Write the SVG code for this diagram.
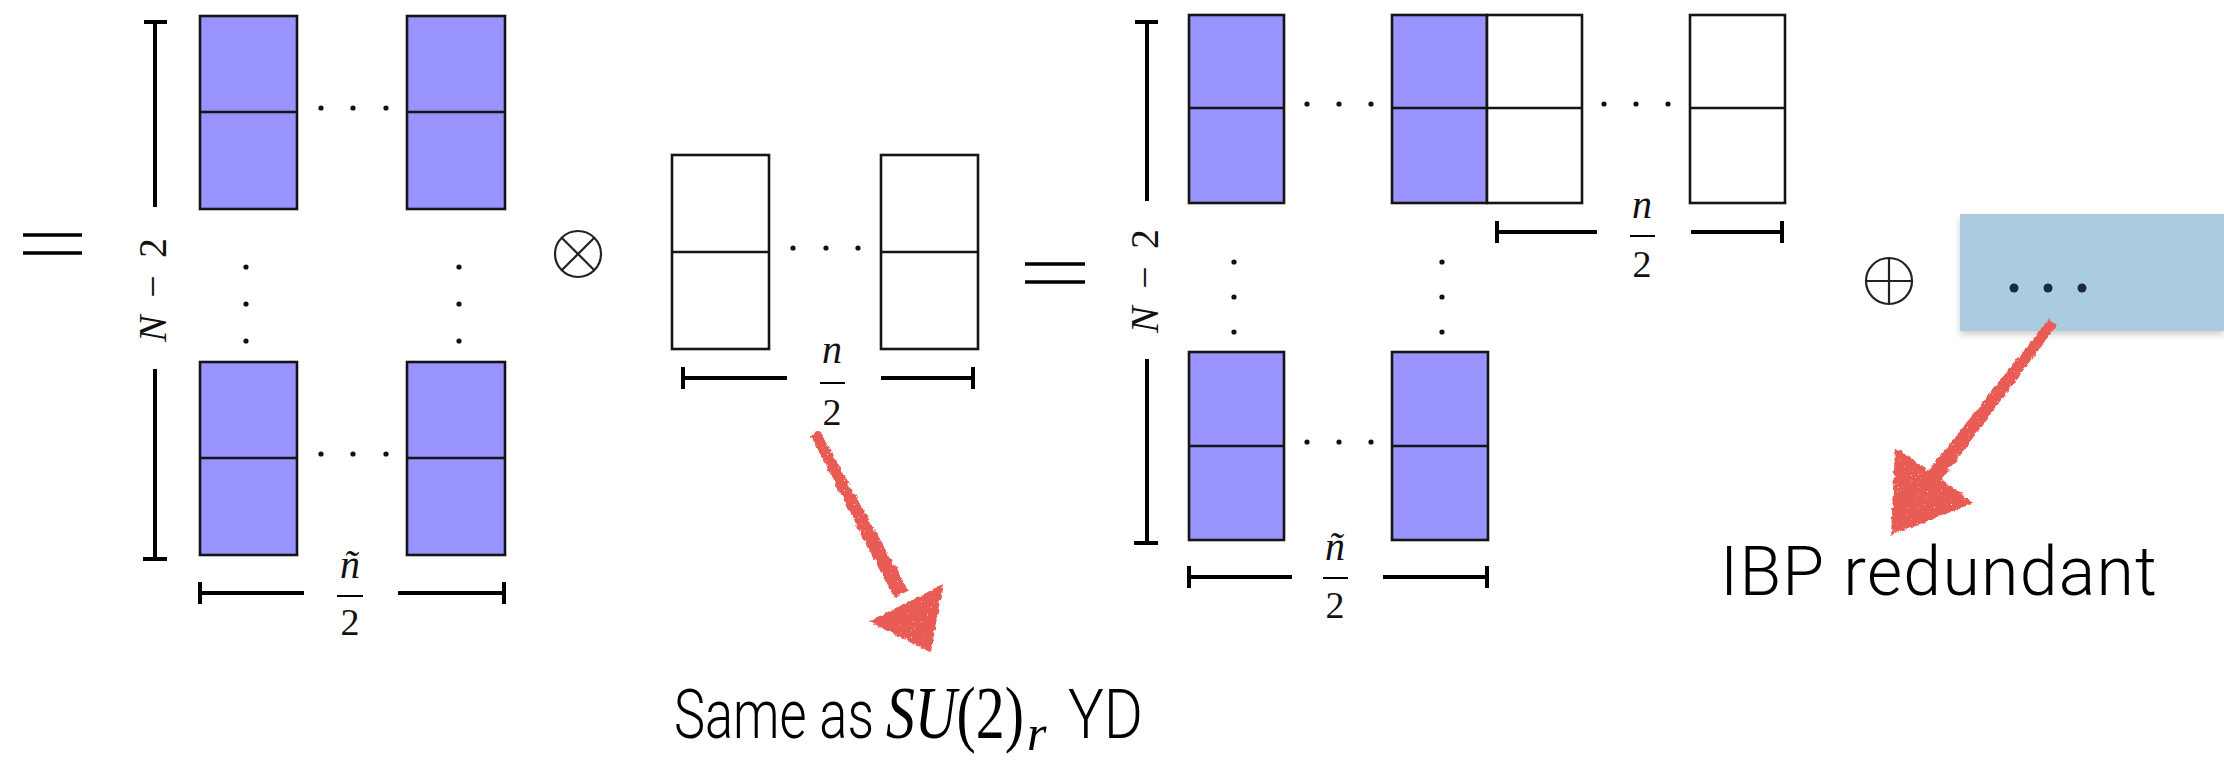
<svg xmlns="http://www.w3.org/2000/svg" width="2224" height="760" viewBox="0 0 2224 760">
  <style>
    .cp { fill: #9993fe; stroke: #151515; stroke-width: 2.6; }
    .cw { fill: #ffffff; stroke: #151515; stroke-width: 2.6; }
    .mid { stroke: #151515; stroke-width: 2.6; }
    .brk { stroke: #000; stroke-width: 4; fill: none; }
    .op { stroke: #000; stroke-width: 3.4; fill: none; }
    .opthin { stroke: #222; stroke-width: 2.2; fill: none; }
    .bar { stroke: #000; stroke-width: 2; }
    .dot { fill: #111; }
    .mi { font-family: "Liberation Serif", "DejaVu Serif", serif; font-style: italic; font-size: 40px; fill: #111; }
    .mn { font-family: "Liberation Serif", "DejaVu Serif", serif; font-size: 38px; fill: #111; }
    .lbl { font-family: Roboto, "Liberation Sans", Arial, sans-serif; font-weight: 300; font-size: 68px; fill: #000; }
    .chalk { fill: #e95b55; filter: url(#rough); }
  </style>
  <defs>
    <!-- grainy hand-drawn edge for the red arrows -->
    <filter id="rough" x="-20%" y="-20%" width="140%" height="140%">
      <feTurbulence type="fractalNoise" baseFrequency="0.2" numOctaves="3" seed="4" result="warp"/>
      <feDisplacementMap in="SourceGraphic" in2="warp" scale="5" xChannelSelector="R" yChannelSelector="G" result="edge"/>
      <feTurbulence type="fractalNoise" baseFrequency="0.7" numOctaves="1" seed="9" result="grain"/>
      <feColorMatrix in="grain" type="matrix" values="0 0 0 0 0  0 0 0 0 0  0 0 0 0 0  14 0 0 0 -3" result="mask"/>
      <feComposite in="edge" in2="mask" operator="in"/>
    </filter>
    <filter id="shadow" x="-5%" y="-20%" width="110%" height="150%">
      <feDropShadow dx="0" dy="4" stdDeviation="3" flood-color="#000" flood-opacity="0.18"/>
    </filter>
  </defs>

  <!-- leading equals sign -->
  <g id="eq-left">
    <line class="op" x1="23" y1="235" x2="82" y2="235"/>
    <line class="op" x1="23" y1="253" x2="82" y2="253"/>
  </g>

  <!-- first diagram: (N-2) rows by n~/2 columns, all shaded -->
  <g id="yd-left">
    <rect class="cp" x="200" y="16" width="97" height="193"/>
    <line class="mid" x1="200" y1="112" x2="297" y2="112"/>
    <rect class="cp" x="407" y="16" width="98" height="193"/>
    <line class="mid" x1="407" y1="112" x2="505" y2="112"/>
    <circle class="dot" cx="321" cy="108" r="2.6"/>
    <circle class="dot" cx="353" cy="108" r="2.6"/>
    <circle class="dot" cx="386" cy="108" r="2.6"/>

    <circle class="dot" cx="246" cy="267" r="2.6"/>
    <circle class="dot" cx="246" cy="304" r="2.6"/>
    <circle class="dot" cx="246" cy="341" r="2.6"/>
    <circle class="dot" cx="459" cy="267" r="2.6"/>
    <circle class="dot" cx="459" cy="304" r="2.6"/>
    <circle class="dot" cx="459" cy="341" r="2.6"/>

    <rect class="cp" x="200" y="362" width="97" height="193"/>
    <line class="mid" x1="200" y1="458" x2="297" y2="458"/>
    <rect class="cp" x="407" y="362" width="98" height="193"/>
    <line class="mid" x1="407" y1="458" x2="505" y2="458"/>
    <circle class="dot" cx="321" cy="454" r="2.6"/>
    <circle class="dot" cx="353" cy="454" r="2.6"/>
    <circle class="dot" cx="386" cy="454" r="2.6"/>

    <!-- height bracket -->
    <path class="brk" d="M144 22 H167 M155 22 V207 M155 369 V559 M143 559 H167"/>
    <text class="mi" font-size="42" transform="translate(166 290) rotate(-90)" text-anchor="middle" textLength="104" lengthAdjust="spacing">N − <tspan font-style="normal">2</tspan></text>
    <!-- width bracket -->
    <path class="brk" d="M200 582 V604 M200 593 H304 M398 593 H504 M504 582 V604"/>
    <text class="mi" x="350" y="578" text-anchor="middle">ñ</text>
    <line class="bar" x1="337" y1="596" x2="363" y2="596"/>
    <text class="mn" x="350" y="635" text-anchor="middle">2</text>
  </g>

  <!-- tensor product sign -->
  <g id="otimes">
    <circle class="opthin" cx="578" cy="254" r="23"/>
    <line class="opthin" x1="561.7" y1="237.7" x2="594.3" y2="270.3"/>
    <line class="opthin" x1="594.3" y1="237.7" x2="561.7" y2="270.3"/>
  </g>

  <!-- second diagram: one row of n/2 empty columns -->
  <g id="yd-mid">
    <rect class="cw" x="672" y="155" width="97" height="194"/>
    <line class="mid" x1="672" y1="252" x2="769" y2="252"/>
    <rect class="cw" x="881" y="155" width="97" height="194"/>
    <line class="mid" x1="881" y1="252" x2="978" y2="252"/>
    <circle class="dot" cx="793" cy="248" r="2.6"/>
    <circle class="dot" cx="826" cy="248" r="2.6"/>
    <circle class="dot" cx="858" cy="248" r="2.6"/>
    <path class="brk" d="M683 367 V389 M683 378 H787 M881 378 H973 M973 367 V389"/>
    <text class="mi" x="832" y="363" text-anchor="middle">n</text>
    <line class="bar" x1="820" y1="383" x2="845" y2="383"/>
    <text class="mn" x="832" y="425" text-anchor="middle">2</text>
  </g>

  <!-- equals sign -->
  <g id="eq-mid">
    <line class="op" x1="1025" y1="264" x2="1085" y2="264"/>
    <line class="op" x1="1025" y1="282" x2="1085" y2="282"/>
  </g>

  <!-- third diagram: shaded block with n/2 empty columns appended to the first row -->
  <g id="yd-right">
    <rect class="cp" x="1189" y="15" width="95" height="188"/>
    <line class="mid" x1="1189" y1="108" x2="1284" y2="108"/>
    <circle class="dot" cx="1307" cy="104" r="2.6"/>
    <circle class="dot" cx="1339" cy="104" r="2.6"/>
    <circle class="dot" cx="1371" cy="104" r="2.6"/>
    <rect class="cp" x="1392" y="15" width="95" height="188"/>
    <rect class="cw" x="1487" y="15" width="95" height="188"/>
    <line class="mid" x1="1392" y1="108" x2="1582" y2="108"/>
    <circle class="dot" cx="1604" cy="104" r="2.6"/>
    <circle class="dot" cx="1636" cy="104" r="2.6"/>
    <circle class="dot" cx="1668" cy="104" r="2.6"/>
    <rect class="cw" x="1690" y="15" width="95" height="188"/>
    <line class="mid" x1="1690" y1="108" x2="1785" y2="108"/>

    <path class="brk" d="M1497 221 V243 M1497 232 H1597 M1691 232 H1782 M1782 221 V243"/>
    <text class="mi" x="1642" y="218" text-anchor="middle">n</text>
    <line class="bar" x1="1630" y1="236" x2="1655" y2="236"/>
    <text class="mn" x="1642" y="277" text-anchor="middle">2</text>

    <circle class="dot" cx="1234" cy="262" r="2.6"/>
    <circle class="dot" cx="1234" cy="297" r="2.6"/>
    <circle class="dot" cx="1234" cy="332" r="2.6"/>
    <circle class="dot" cx="1442" cy="262" r="2.6"/>
    <circle class="dot" cx="1442" cy="297" r="2.6"/>
    <circle class="dot" cx="1442" cy="332" r="2.6"/>

    <rect class="cp" x="1189" y="352" width="95" height="188"/>
    <line class="mid" x1="1189" y1="446" x2="1284" y2="446"/>
    <rect class="cp" x="1392" y="352" width="96" height="188"/>
    <line class="mid" x1="1392" y1="446" x2="1488" y2="446"/>
    <circle class="dot" cx="1307" cy="442" r="2.6"/>
    <circle class="dot" cx="1339" cy="442" r="2.6"/>
    <circle class="dot" cx="1371" cy="442" r="2.6"/>

    <path class="brk" d="M1135 22 H1158 M1147 22 V201 M1147 359 V543 M1134 543 H1158"/>
    <text class="mi" font-size="42" transform="translate(1158 281) rotate(-90)" text-anchor="middle" textLength="104" lengthAdjust="spacing">N − <tspan font-style="normal">2</tspan></text>

    <path class="brk" d="M1189 566 V588 M1189 577 H1292 M1383 577 H1487 M1487 566 V588"/>
    <text class="mi" x="1335" y="560" text-anchor="middle">ñ</text>
    <line class="bar" x1="1323" y1="578" x2="1348" y2="578"/>
    <text class="mn" x="1335" y="618" text-anchor="middle">2</text>
  </g>

  <!-- direct sum sign -->
  <g id="oplus">
    <circle class="opthin" cx="1889" cy="281" r="23"/>
    <line class="opthin" x1="1866" y1="281" x2="1912" y2="281"/>
    <line class="opthin" x1="1889" y1="258" x2="1889" y2="304"/>
  </g>

  <!-- remaining terms, collapsed -->
  <g id="rest">
    <rect x="1960" y="214" width="264" height="117" fill="#abcbe0" filter="url(#shadow)"/>
    <circle cx="2014" cy="288" r="4.5" fill="#1c2a3b"/>
    <circle cx="2048" cy="288" r="4.5" fill="#1c2a3b"/>
    <circle cx="2082" cy="288" r="4.5" fill="#1c2a3b"/>
  </g>

  <!-- hand-drawn annotation arrows -->
  <g id="connectors">
    <g class="chalk">
      <polygon points="819.4,430.7 810.6,435.3 893.9,597.7 908.1,590.3"/>
      <polygon points="869,622 943,584 931,652"/>
    </g>
    <g class="chalk">
      <polygon points="2057,325 2049,319 1926.7,473.1 1939.3,482.9"/>
      <polygon points="1895,447 1974,503 1891,535"/>
    </g>
  </g>

  <!-- annotations: the lower caption is set horizontally narrowed -->
  <g id="note-same">
    <text class="lbl" font-size="66" transform="translate(674 738) scale(0.77 1)">Same as</text>
    <text font-family="'Liberation Serif', serif" font-size="75" fill="#000" transform="translate(886 738) scale(0.77 1)"><tspan font-style="italic">SU</tspan>(2)</text>
    <text font-family="'Liberation Serif', serif" font-style="italic" font-size="50" fill="#000" transform="translate(1027 750)">r</text>
    <text class="lbl" font-size="66" transform="translate(1068 738) scale(0.88 1)">YD</text>
  </g>
  <g id="note-ibp">
    <text class="lbl" x="1720" y="595" textLength="437" lengthAdjust="spacing">IBP redundant</text>
  </g>
</svg>
